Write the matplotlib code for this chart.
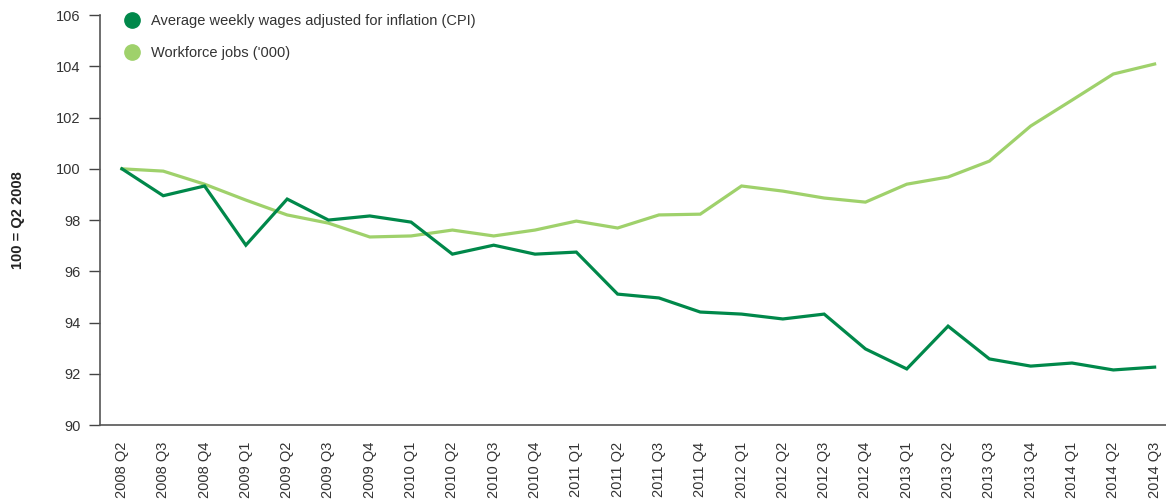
import matplotlib
matplotlib.use("Agg")
import matplotlib.pyplot as plt
from matplotlib.lines import Line2D

plt.rcParams['font.family'] = ['Liberation Sans', 'DejaVu Sans']

quarters = ["2008 Q2", "2008 Q3", "2008 Q4",
            "2009 Q1", "2009 Q2", "2009 Q3", "2009 Q4",
            "2010 Q1", "2010 Q2", "2010 Q3", "2010 Q4",
            "2011 Q1", "2011 Q2", "2011 Q3", "2011 Q4",
            "2012 Q1", "2012 Q2", "2012 Q3", "2012 Q4",
            "2013 Q1", "2013 Q2", "2013 Q3", "2013 Q4",
            "2014 Q1", "2014 Q2", "2014 Q3"]

wages = [100.0, 98.95, 99.33, 97.02, 98.82, 98.0, 98.16, 97.92, 96.67, 97.02,
         96.67, 96.75, 95.11, 94.96, 94.41, 94.33, 94.14, 94.33, 92.97, 92.19,
         93.86, 92.58, 92.30, 92.42, 92.15, 92.26]

jobs = [100.0, 99.91, 99.40, 98.78, 98.20, 97.88, 97.34, 97.38, 97.61, 97.38,
        97.61, 97.96, 97.69, 98.20, 98.23, 99.33, 99.13, 98.86, 98.70, 99.40,
        99.68, 100.30, 101.67, 102.68, 103.70, 104.09]

c_wages = "#00884a"
c_jobs = "#9fd16b"
txt = "#333333"

fig = plt.figure(figsize=(11.66, 5.03), dpi=100)
ax = fig.add_axes([0.0858, 0.155, 0.914, 0.815])

x = range(len(quarters))
ax.plot(x, jobs, color=c_jobs, lw=2.3, solid_joinstyle='miter')
ax.plot(x, wages, color=c_wages, lw=2.3, solid_joinstyle='miter')

ax.set_xlim(-0.53, 25.27)
ax.set_ylim(90, 106)
ax.set_yticks(range(90, 107, 2))
ax.set_xticks(list(x))
ax.set_xticklabels(quarters, rotation=90, fontsize=10.5, color=txt)
ax.tick_params(axis='x', length=0, pad=12)
ax.tick_params(axis='y', length=8, width=1, color="#444444", labelsize=10.5,
               labelcolor=txt, pad=6)

for s in ['top', 'right']:
    ax.spines[s].set_visible(False)
for s in ['left', 'bottom']:
    ax.spines[s].set_color("#555555")
    ax.spines[s].set_linewidth(1.2)

fig.text(18 / 1166, 1 - 220 / 503, "100 = Q2 2008", rotation=90, fontsize=10.5,
         fontweight='bold', color="#222222", ha='center', va='center')

handles = [Line2D([], [], ls='none', marker='o', ms=11, color=c_wages),
           Line2D([], [], ls='none', marker='o', ms=11, color=c_jobs)]
ax.legend(handles, ["Average weekly wages adjusted for inflation (CPI)",
                    "Workforce jobs ('000)"],
          loc='upper left', bbox_to_anchor=(0.011, 1.035), frameon=False,
          fontsize=10.5, handletextpad=0.8, labelspacing=1.25, handlelength=1.0,
          labelcolor=txt)

fig.savefig("out.png", dpi=100)
